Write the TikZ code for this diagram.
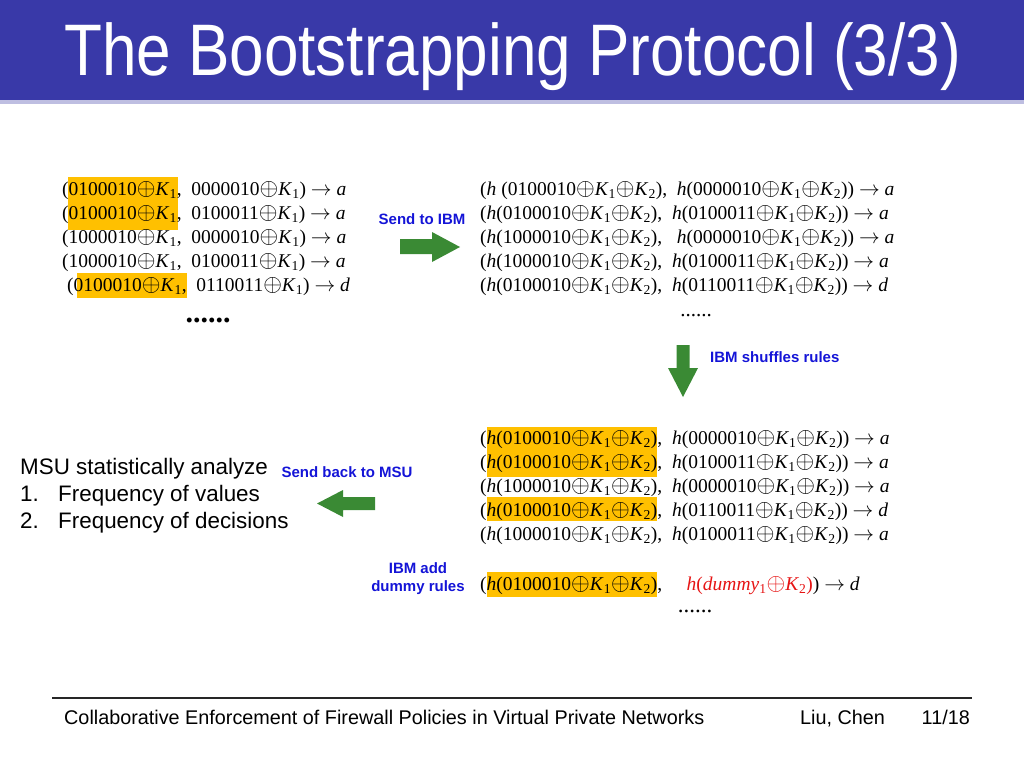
\documentclass[tikz,border=0pt]{standalone}
\usepackage{fontspec}
\usepackage{graphicx}
\setmainfont{Liberation Serif}
\setsansfont{Liberation Sans}
\newfontfamily\titlefont[FakeStretch=0.85]{Liberation Sans}
\newfontfamily\footfont{Liberation Sans}
\newcommand{\xo}{\raisebox{-0.04em}{\scalebox{1.16}{$\oplus$}}}
\newcommand{\Ka}{\textit{K}\textsubscript{1}}
\newcommand{\Kb}{\textit{K}\textsubscript{2}}
\newcommand{\hh}{\textit{h}}
\newcommand{\myto}{$\rightarrow$}
\definecolor{bandblue}{RGB}{57,57,168}
\definecolor{bandline}{RGB}{190,190,225}
\definecolor{hl}{RGB}{255,192,0}
\definecolor{arrgreen}{RGB}{58,138,52}
\definecolor{lblblue}{RGB}{20,20,215}
\definecolor{dumred}{RGB}{230,20,20}
\begin{document}
\begin{tikzpicture}[x=1pt,y=-1pt,
  rule/.style={anchor=base west,inner sep=0pt,text height=13pt,text depth=3pt,font=\fontsize{19.5}{24}\selectfont},
  dots/.style={anchor=base,inner sep=0pt},
  lbl/.style={inner sep=0pt,text=lblblue,font=\sffamily\bfseries\fontsize{15}{18}\selectfont},
  body/.style={anchor=base west,inner sep=0pt,font=\sffamily\fontsize{22.4}{27}\selectfont},
  hlbox/.style={fill=hl},
  blockarrow/.style={fill=arrgreen}]
\useasboundingbox (0,0) rectangle (1024,768);
% title band
\fill[bandblue] (0,0) rectangle (1024,100);
\fill[bandline] (0,100) rectangle (1024,104);
\node[anchor=base west,inner sep=0pt,text=white,font=\titlefont\fontsize{73}{80}\selectfont] (title) at (64,75) {The Bootstrapping Protocol (3/3)};
% highlights
\fill[hlbox] (68,177) rectangle (178,230);
\fill[hlbox] (77,273) rectangle (187,298);
\fill[hlbox] (487,427) rectangle (657,477);
\fill[hlbox] (487,497) rectangle (657,521);
\fill[hlbox] (487,572) rectangle (657,597);
% top-left rules
\node[rule] (l1) at (62,195) {(0100010\xo\Ka,\ \ 0000010\xo\Ka) \myto\ \textit{a}};
\node[rule] (l2) at (62,219) {(0100010\xo\Ka,\ \ 0100011\xo\Ka) \myto\ \textit{a}};
\node[rule] (l3) at (62,243) {(1000010\xo\Ka,\ \ 0000010\xo\Ka) \myto\ \textit{a}};
\node[rule] (l4) at (62,267) {(1000010\xo\Ka,\ \ 0100011\xo\Ka) \myto\ \textit{a}};
\node[rule] (l5) at (67,291) {(0100010\xo\Ka,\ \ 0110011\xo\Ka) \myto\ \textit{d}};
\node[dots,font=\bfseries\fontsize{30}{30}\selectfont] (ld) at (208,322) {......};
% top-right rules
\node[rule] (r1) at (480,195) {(\hh\ (0100010\xo\Ka\xo\Kb),\ \ \hh(0000010\xo\Ka\xo\Kb)) \myto\ \textit{a}};
\node[rule] (r2) at (480,219) {(\hh(0100010\xo\Ka\xo\Kb),\ \ \hh(0100011\xo\Ka\xo\Kb)) \myto\ \textit{a}};
\node[rule] (r3) at (480,243) {(\hh(1000010\xo\Ka\xo\Kb),\ \ \ \hh(0000010\xo\Ka\xo\Kb)) \myto\ \textit{a}};
\node[rule] (r4) at (480,267) {(\hh(1000010\xo\Ka\xo\Kb),\ \ \hh(0100011\xo\Ka\xo\Kb)) \myto\ \textit{a}};
\node[rule] (r5) at (480,291) {(\hh(0100010\xo\Ka\xo\Kb),\ \ \hh(0110011\xo\Ka\xo\Kb)) \myto\ \textit{d}};
\node[dots,font=\fontsize{21}{21}\selectfont] (rd) at (696,316) {......};
% bottom-right rules
\node[rule] (b1) at (480,444) {(\hh(0100010\xo\Ka\xo\Kb),\ \ \hh(0000010\xo\Ka\xo\Kb)) \myto\ \textit{a}};
\node[rule] (b2) at (480,468) {(\hh(0100010\xo\Ka\xo\Kb),\ \ \hh(0100011\xo\Ka\xo\Kb)) \myto\ \textit{a}};
\node[rule] (b3) at (480,492) {(\hh(1000010\xo\Ka\xo\Kb),\ \ \hh(0000010\xo\Ka\xo\Kb)) \myto\ \textit{a}};
\node[rule] (b4) at (480,516) {(\hh(0100010\xo\Ka\xo\Kb),\ \ \hh(0110011\xo\Ka\xo\Kb)) \myto\ \textit{d}};
\node[rule] (b5) at (480,540) {(\hh(1000010\xo\Ka\xo\Kb),\ \ \hh(0100011\xo\Ka\xo\Kb)) \myto\ \textit{a}};
\node[rule] (b6) at (480,590) {(\hh(0100010\xo\Ka\xo\Kb),\ \ \ \ \ {\color{dumred}\hh(\textit{dummy}\textsubscript{1}\xo\Kb)})\ \myto\ \textit{d}};
\node[dots,font=\fontsize{23}{23}\selectfont] (bd) at (695,612) {......};
% left text
\node[body] (msu) at (20,474) {MSU statistically analyze};
\node[body] (n1) at (20,501) {1.};
\node[body] (f1) at (58,501) {Frequency of values};
\node[body] (n2) at (20,528) {2.};
\node[body] (f2) at (58,528) {Frequency of decisions};
% labels
\node[lbl] (sendibm) at (422,219) {Send to IBM};
\node[lbl,anchor=west] (shuffle) at (710,357) {IBM shuffles rules};
\node[lbl] (sendmsu) at (347,472) {Send back to MSU};
\node[lbl,align=center,font=\sffamily\bfseries\fontsize{15}{18}\selectfont] (dummy) at (418,579) {IBM add\\dummy rules};
% green block arrows
\fill[blockarrow] (400,239) -- (432,239) -- (432,232) -- (460,247) -- (432,262) -- (432,254) -- (400,254) -- cycle;
\fill[blockarrow] (676.5,345) -- (689.5,345) -- (689.5,368) -- (698,368) -- (683,397) -- (668,368) -- (676.5,368) -- cycle;
\fill[blockarrow] (375,497) -- (343,497) -- (343,490) -- (317,503.5) -- (343,517) -- (343,510) -- (375,510) -- cycle;
% footer
\draw[line width=1.3pt,black!85] (52,698) -- (972,698);
\node[anchor=base west,inner sep=0pt,font=\footfont\fontsize{19.8}{22}\selectfont] (foot) at (64,724) {Collaborative Enforcement of Firewall Policies in Virtual Private Networks};
\node[anchor=base west,inner sep=0pt,font=\footfont\fontsize{19.8}{22}\selectfont] (auth) at (800,724) {Liu, Chen};
\node[anchor=base east,inner sep=0pt,font=\footfont\fontsize{19.8}{22}\selectfont] (page) at (970,724) {11/18};
\end{tikzpicture}
\end{document}
